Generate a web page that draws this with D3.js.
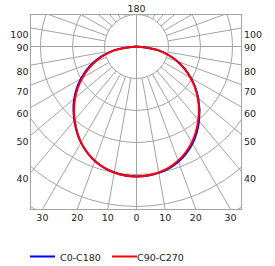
<!DOCTYPE html>
<html>
<script src='https://d3js.org/d3.v7.min.js'></script>
<style>
	body {margin: 0; background: white; }
	svg {display: block; font-family: "DejaVu Sans", Verdana, sans-serif; }
</style>
<body>
<svg id="chart" width="275" height="266"></svg>
<script>
// angles measured from straight down (nadir), degrees
const angles = [0, 10, 20, 30, 40, 50, 60, 70, 80, 90];
// C0-C180 plane (right half = C0, left half = C180)
const c0 = [406, 401, 383, 350, 304, 252, 196, 137, 70, 0];
const c180 = [406, 400, 381, 347, 302, 254, 200, 141, 74, 0];
// C90-C270 plane (right half = C90, left half = C270)
const c90 = [406, 400, 380, 346, 300, 250, 195, 136, 70, 0];
const c270 = [406, 400, 380, 346, 300, 250, 195, 136, 70, 0];

const rings = [100, 200, 300, 400, 500, 600];
const sideLabels = [100, 90, 80, 70, 60, 50, 40];
const bottomLabels = [30, 20, 10, 0];
const series = ["C0-C180", "C90-C270"];
const colors = ["#0000ff", "#ff0000"];

const svg = d3.select("#chart");
const box = {left: 30.5, right: 241.5, top: 14.5, bottom: 209.5};
const cx = 136.5, cy = 46.5;
const grid = "#a3a3a3";

const r = d3.scaleLinear().domain([0, 100]).range([0, 32]);
const rad = d => d * Math.PI / 180;

svg.append("clipPath").attr("id", "boxclip")
	.append("rect")
	.attr("x", box.left).attr("y", box.top)
	.attr("width", box.right - box.left).attr("height", box.bottom - box.top);

const g = svg.append("g").attr("clip-path", "url(#boxclip)");

// rings
g.selectAll(".ring")
	.data(rings)
	.enter()
	.append("circle")
	.attr("cx", cx).attr("cy", cy)
	.attr("r", d => r(d))
	.attr("fill", "none")
	.attr("stroke", grid)
	.attr("stroke-width", 1);

// radial lines every 10 deg
const spokes = d3.range(0, 360, 10);
g.selectAll(".spoke")
	.data(spokes)
	.enter()
	.append("line")
	.attr("x1", d => cx + (d % 90 === 0 ? 0 : r(100)) * Math.sin(rad(d)))
	.attr("y1", d => cy + (d % 90 === 0 ? 0 : r(100)) * Math.cos(rad(d)))
	.attr("x2", d => cx + r(800) * Math.sin(rad(d)))
	.attr("y2", d => cy + r(800) * Math.cos(rad(d)))
	.attr("stroke", grid)
	.attr("stroke-width", 1);

svg.append("rect")
	.attr("x", box.left).attr("y", box.top)
	.attr("width", box.right - box.left).attr("height", box.bottom - box.top)
	.attr("fill", "none")
	.attr("stroke", grid)
	.attr("stroke-width", 1);

// curves
const line = d3.lineRadial()
	.angle(d => d[0])
	.radius(d => r(d[1]))
	.curve(d3.curveCatmullRom);

function curvePoints(left, right) {
	const pts = [];
	for (let i = angles.length - 1; i >= 0; i--) pts.push([Math.PI + rad(angles[i]), left[i]]);
	for (let i = 1; i < angles.length; i++) pts.push([Math.PI - rad(angles[i]), right[i]]);
	return pts;
}

const curves = [curvePoints(c180, c0), curvePoints(c270, c90)];
svg.selectAll(".curve")
	.data(curves)
	.enter()
	.append("path")
	.attr("transform", `translate(${cx},${cy})`)
	.attr("d", line)
	.attr("fill", "none")
	.attr("stroke", (d, i) => colors[i])
	.attr("stroke-width", 2);

// labels
const txt = "#222";
const halfW = box.right - cx;
sideLabels.forEach(a => {
	const hit = cy + halfW * Math.cos(rad(a)) / Math.sin(rad(a));
	const y = a === 90 ? cy + 4 : hit + 10;
	svg.append("text").attr("x", box.left - 2).attr("y", y)
		.attr("text-anchor", "end").attr("font-size", "9.5px").attr("fill", txt).text(a);
	svg.append("text").attr("x", box.right + 2.5).attr("y", y)
		.attr("text-anchor", "start").attr("font-size", "9.5px").attr("fill", txt).text(a);
});

const depth = box.bottom - cy;
bottomLabels.forEach(a => {
	const dx = depth * Math.tan(rad(a));
	const xs = a === 0 ? [cx] : [cx - dx, cx + dx];
	xs.forEach(x => svg.append("text").attr("x", x).attr("y", 221)
		.attr("text-anchor", "middle").attr("font-size", "9.5px").attr("fill", txt).text(a));
});

svg.append("text").attr("x", cx).attr("y", 12)
	.attr("text-anchor", "middle").attr("font-size", "9.5px").attr("fill", txt).text("180");

// legend
const legendX = [30, 112];
series.forEach((s, i) => {
	svg.append("line")
		.attr("x1", legendX[i]).attr("x2", legendX[i] + 25)
		.attr("y1", 256.5).attr("y2", 256.5)
		.attr("stroke", colors[i]).attr("stroke-width", 2);
	svg.append("text")
		.attr("x", legendX[i] + (i === 0 ? 30 : 25)).attr("y", 260.5)
		.attr("font-size", "9.5px").attr("fill", txt).text(s);
});
</script>
</body>
</html>
